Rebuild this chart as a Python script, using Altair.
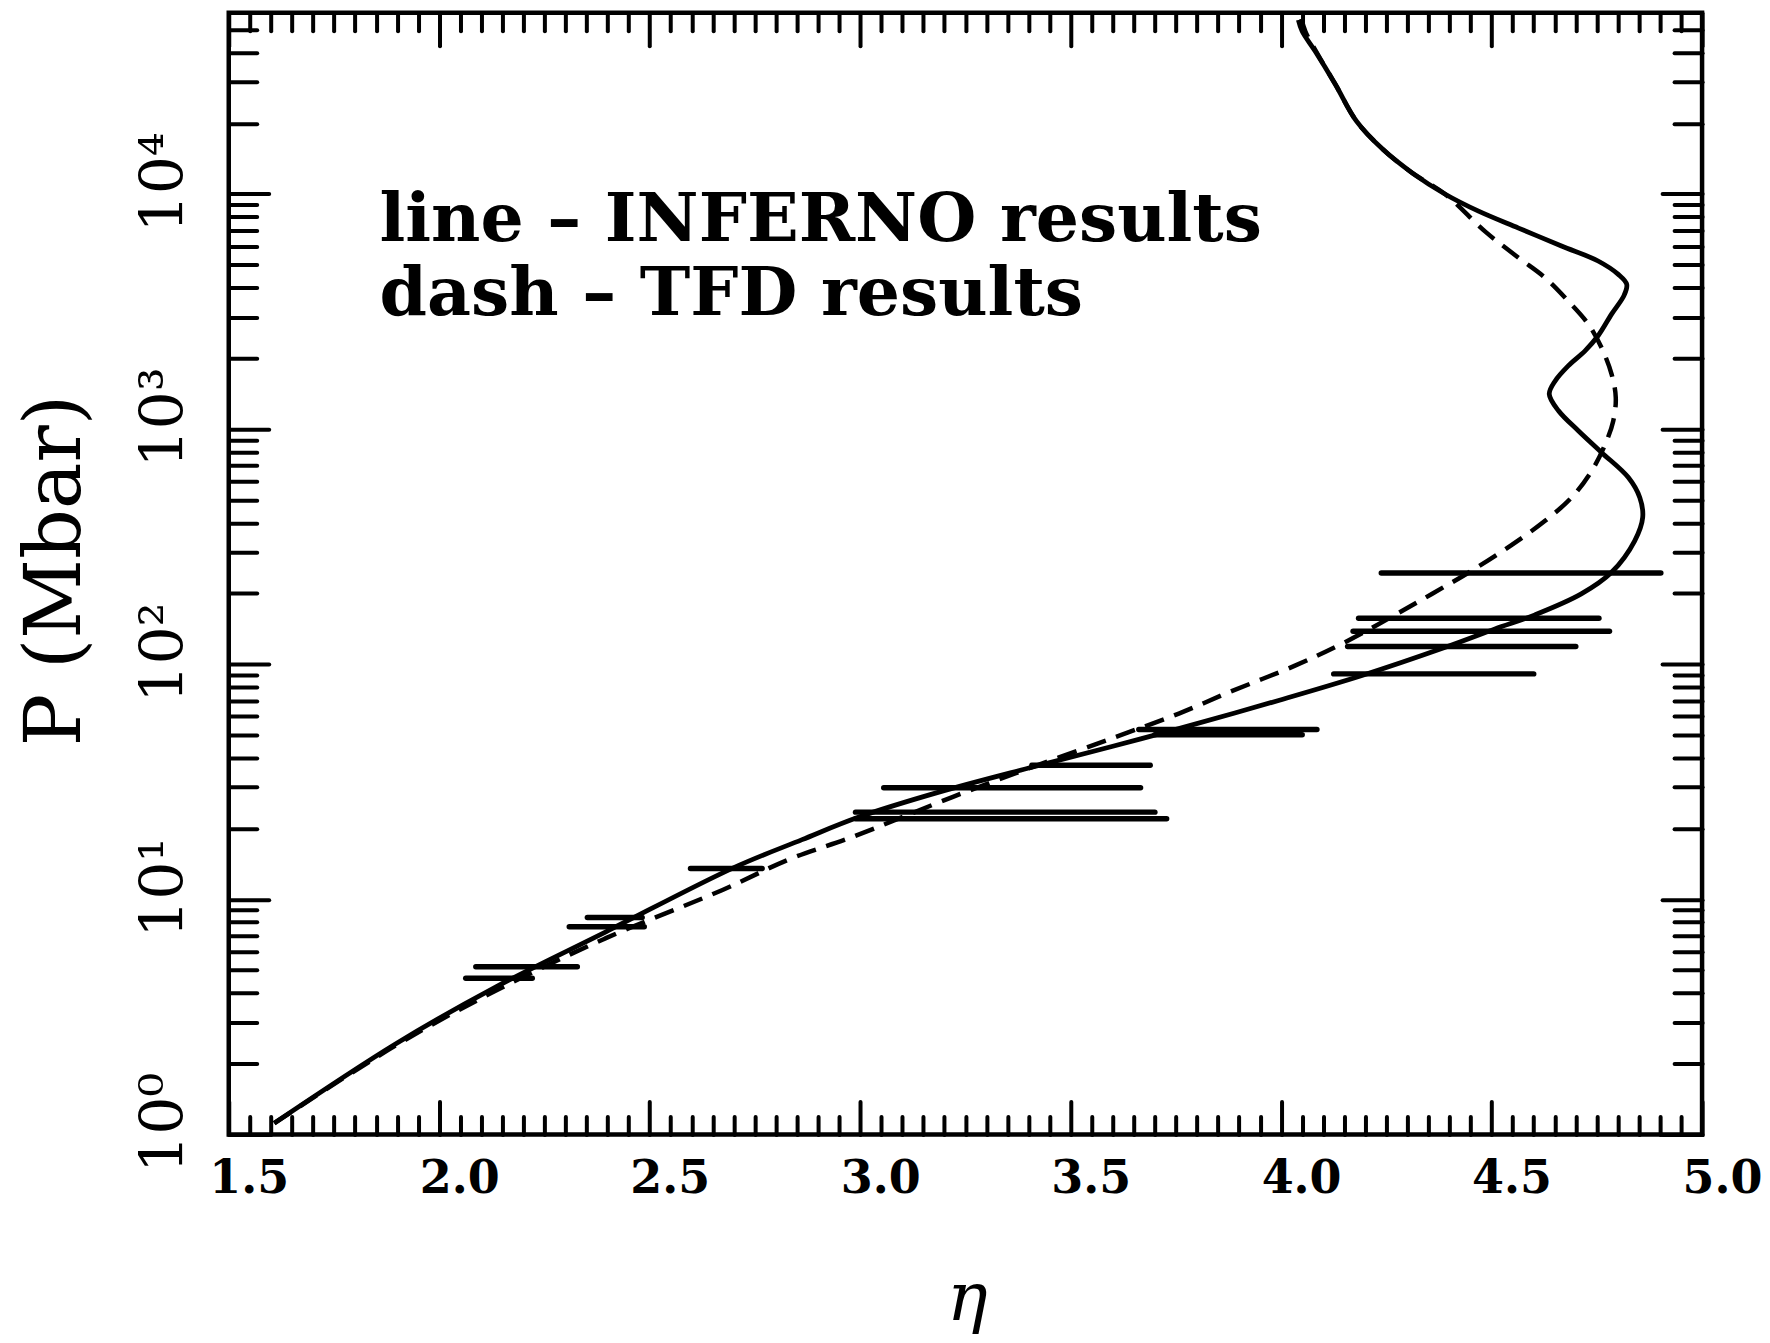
import altair as alt
import pandas as pd

# ---------------- data ----------------
# INFERNO results (solid line): eta and log10(P / Mbar), in drawing order
eta_inferno = [1.608, 1.898, 2.135, 2.396, 2.700, 2.862, 2.997, 3.187, 3.408, 3.598,
               3.757, 3.994, 4.192, 4.390, 4.508, 4.603, 4.713, 4.785, 4.840, 4.859,
               4.852, 4.825, 4.761, 4.706, 4.659, 4.637, 4.651, 4.682, 4.722, 4.753,
               4.785, 4.815, 4.821, 4.801, 4.753, 4.666, 4.564, 4.469, 4.390, 4.312,
               4.241, 4.179, 4.129, 4.081, 4.050, 4.041]
log10p_inferno = [0.048, 0.387, 0.628, 0.862, 1.135, 1.254, 1.350, 1.456, 1.562, 1.650,
                  1.726, 1.846, 1.952, 2.072, 2.150, 2.210, 2.299, 2.391, 2.525, 2.625,
                  2.709, 2.794, 2.901, 2.993, 3.078, 3.149, 3.205, 3.269, 3.333, 3.397,
                  3.489, 3.570, 3.616, 3.658, 3.715, 3.779, 3.855, 3.927, 3.999, 4.089,
                  4.191, 4.310, 4.466, 4.607, 4.692, 4.740]

# TFD results (dashed line)
eta_tfd = [1.608, 1.898, 2.135, 2.396, 2.673, 2.831, 2.981, 3.219, 3.408, 3.598,
           3.757, 3.875, 4.033, 4.152, 4.271, 4.358, 4.453, 4.548, 4.627, 4.690,
           4.738, 4.770, 4.789, 4.795, 4.785, 4.761, 4.730, 4.682, 4.627, 4.564,
           4.485, 4.390, 4.312, 4.241, 4.179, 4.129, 4.085, 4.058, 4.048]
log10p_tfd = [0.048, 0.380, 0.612, 0.835, 1.040, 1.170, 1.265, 1.435, 1.562, 1.685,
              1.790, 1.880, 1.994, 2.094, 2.210, 2.299, 2.398, 2.508, 2.610, 2.709,
              2.823, 2.936, 3.035, 3.134, 3.234, 3.347, 3.446, 3.545, 3.644, 3.729,
              3.840, 3.999, 4.089, 4.191, 4.310, 4.466, 4.600, 4.690, 4.745]

# experimental points: horizontal error bars in eta
bar_log10p = [0.664, 0.713, 0.883, 0.923, 1.131, 1.343, 1.371, 1.475, 1.570, 1.700,
              1.722, 1.959, 2.075, 2.140, 2.196, 2.388]
bar_eta_lo = [2.063, 2.087, 2.309, 2.352, 2.597, 2.989, 2.989, 3.056, 3.408, 3.700,
              3.662, 4.125, 4.158, 4.171, 4.184, 4.238]
bar_eta_hi = [2.221, 2.328, 2.487, 2.482, 2.767, 3.728, 3.700, 3.666, 3.689, 4.050,
              4.085, 4.600, 4.700, 4.780, 4.755, 4.902]

# in-plot legend text
legend_text = ["line \u2013 INFERNO results", "dash \u2013 TFD results"]
legend_eta = [1.858, 1.858]
legend_log10p = [3.800, 3.486]

# axes
x_domain = [1.5, 5.0]
y_domain = [1, 59000]
x_major = [1.5, 2.0, 2.5, 3.0, 3.5, 4.0, 4.5, 5.0]
x_minor = [round(1.5 + 0.05 * i, 2) for i in range(71) if i % 10 != 0]
y_major = [1, 10, 100, 1000, 10000]
y_major_labels = ["10\u2070", "10\u00b9", "10\u00b2", "10\u00b3", "10\u2074"]
y_minor = [m * 10 ** d for d in range(5) for m in range(2, 10) if m * 10 ** d <= 59000]

# ---------------- tables ----------------
inf_df = pd.DataFrame({"eta": eta_inferno,
                       "P": [10 ** v for v in log10p_inferno],
                       "idx": list(range(len(eta_inferno)))})
tfd_df = pd.DataFrame({"eta": eta_tfd,
                       "P": [10 ** v for v in log10p_tfd],
                       "idx": list(range(len(eta_tfd)))})
bar_df = pd.DataFrame({"P": [10 ** v for v in bar_log10p],
                       "lo": bar_eta_lo, "hi": bar_eta_hi})
leg_df = pd.DataFrame({"eta": legend_eta,
                       "P": [10 ** v for v in legend_log10p],
                       "label": legend_text})

xs = alt.Scale(domain=x_domain, nice=False, zero=False)
ys = alt.Scale(type="log", domain=y_domain, nice=False)

XMAJ, XMIN, YMAJ, YMIN = 33, 18, 40, 28
TW = 4
SERIF = "DejaVu Serif"

y_label_expr = " : ".join(
    f"datum.value == {v} ? '{lab}'" for v, lab in zip(y_major, y_major_labels)) + " : ''"


def tick_axis(orient, values, size, **kw):
    return alt.Axis(orient=orient, values=values, tickSize=size, offset=-size,
                    domain=False, grid=False, ticks=True, tickColor="black",
                    tickWidth=TW, tickCap="round", labelFlush=False, **kw)


bottom_major = tick_axis(
    "bottom", x_major, XMAJ, labels=True, format=".1f", labelFont=SERIF,
    labelFontWeight="bold", labelFontSize=46, labelColor="black", labelPadding=22,
    labelOffset=20, labelOverlap=False,
    title="\u03b7", titleFont=SERIF, titleFontStyle="italic", titleFontWeight="normal",
    titleFontSize=68, titleColor="black", titleX=739, titleY=218,
    titleAlign="center", titleBaseline="alphabetic")
bottom_minor = tick_axis("bottom", x_minor, XMIN, labels=False, title=None)
top_major = tick_axis("top", x_major, XMAJ, labels=False, title=None)
top_minor = tick_axis("top", x_minor, XMIN, labels=False, title=None)

left_major = tick_axis(
    "left", y_major, YMAJ, labels=True, labelExpr=y_label_expr, labelFont=SERIF,
    labelFontWeight="normal", labelFontSize=60, labelColor="black", labelAngle=270,
    labelAlign="left", labelBaseline="alphabetic", labelPadding=46,
    labelOffset=38, labelOverlap=False,
    title="P (Mbar)", titleFont=SERIF, titleFontWeight="normal", titleFontSize=78,
    titleColor="black", titleAngle=270, titleX=-212, titleY=558,
    titleAlign="center", titleBaseline="middle")
left_minor = tick_axis("left", y_minor, YMIN, labels=False, title=None)
right_major = tick_axis("right", y_major, YMAJ, labels=False, title=None)
right_minor = tick_axis("right", y_minor, YMIN, labels=False, title=None)

solid = alt.Chart(inf_df).mark_line(color="black", strokeWidth=4.8,
                                    interpolate="catmull-rom").encode(
    x=alt.X("eta:Q", scale=xs, axis=bottom_major),
    y=alt.Y("P:Q", scale=ys, axis=left_major),
    order=alt.Order("idx:Q"),
)

dashed = alt.Chart(tfd_df).mark_line(color="black", strokeWidth=4.5,
                                     strokeDash=[20, 11],
                                     interpolate="catmull-rom").encode(
    x=alt.X("eta:Q", scale=xs, axis=bottom_minor),
    y=alt.Y("P:Q", scale=ys, axis=left_minor),
    order=alt.Order("idx:Q"),
)

bars = alt.Chart(bar_df).mark_rule(color="black", strokeWidth=5.5,
                                   strokeCap="round").encode(
    x=alt.X("lo:Q", scale=xs, axis=top_major),
    x2="hi:Q",
    y=alt.Y("P:Q", scale=ys, axis=right_major),
)

legend = alt.Chart(leg_df).mark_text(align="left", baseline="alphabetic", font=SERIF,
                                     fontWeight="bold", fontSize=68,
                                     color="black").encode(
    x=alt.X("eta:Q", scale=xs, axis=top_minor),
    y=alt.Y("P:Q", scale=ys, axis=right_minor),
    text="label:N",
)

chart = alt.layer(solid, dashed, bars, legend).resolve_axis(
    x="independent", y="independent"
).properties(
    width=1475, height=1123,
    autosize=alt.AutoSizeParams(type="none"),
    padding={"left": 221, "top": 4, "right": 60, "bottom": 206},
    background="white",
).configure_view(stroke="black", strokeWidth=4.5)

chart.save("out.html", embed_options={"renderer": "svg", "actions": False})
